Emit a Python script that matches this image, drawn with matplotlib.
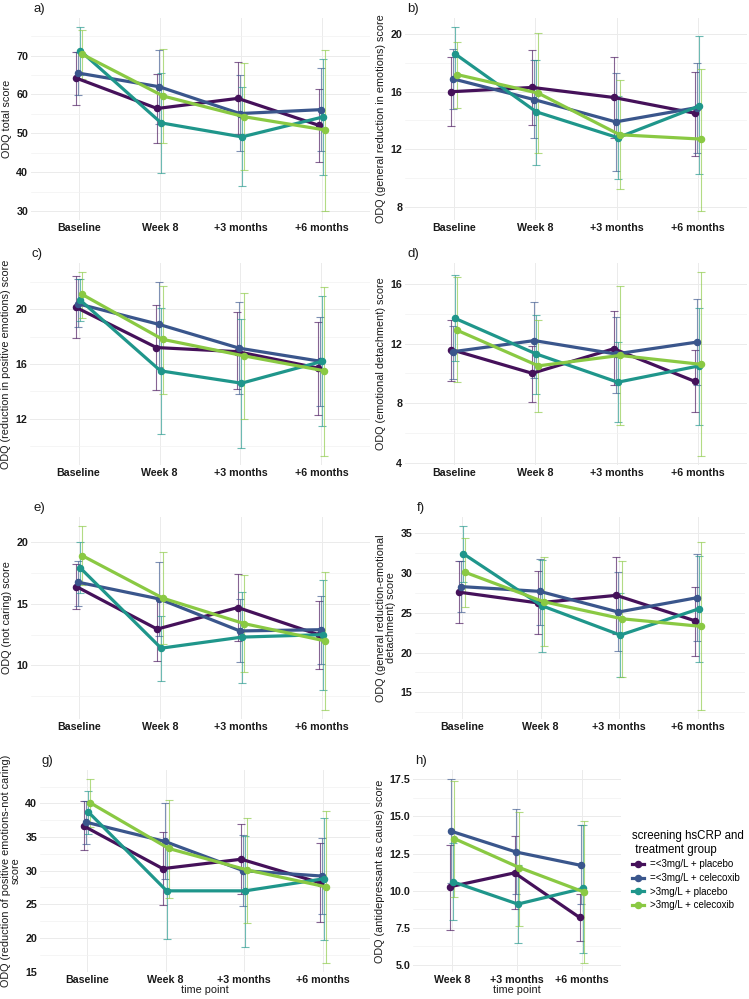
import matplotlib
matplotlib.use("Agg")
import matplotlib.pyplot as plt
from matplotlib.lines import Line2D
from matplotlib.ticker import MultipleLocator, FormatStrFormatter
import numpy as np

plt.rcParams['font.family'] = ['Liberation Sans', 'DejaVu Sans']

groups = ["=<3mg/L + placebo", "=<3mg/L + celecoxib", ">3mg/L + placebo", ">3mg/L + celecoxib"]
colors = ['#45115A', '#3A568C', '#1F968B', '#8AC943']
times4 = ["Baseline", "Week 8", "+3 months", "+6 months"]
times3 = ["Week 8", "+3 months", "+6 months"]

# ---- panel a: ODQ total score
a_mean = [[64.2, 56.4, 59.0, 52.1], [65.5, 62.0, 55.1, 56.1], [71.2, 52.7, 49.1, 54.2], [70.3, 59.6, 54.3, 50.9]]
a_lo = [[57.3, 47.6, 49.8, 42.7], [59.9, 52.5, 45.4, 45.4], [65.0, 39.9, 36.4, 39.2], [64.0, 47.6, 40.7, 30.1]]
a_hi = [[71.0, 65.3, 68.3, 61.5], [71.0, 71.5, 65.0, 66.8], [77.3, 65.4, 62.0, 69.1], [76.7, 71.6, 68.0, 71.5]]
# ---- panel b
b_mean = [[16.0, 16.3, 15.6, 14.5], [16.9, 15.45, 13.9, 14.9], [18.65, 14.6, 12.8, 15.0], [17.2, 15.9, 13.0, 12.7]]
b_lo = [[13.6, 13.7, 12.8, 11.55], [14.8, 12.8, 10.5, 11.7], [16.8, 10.9, 9.9, 10.25], [14.9, 11.7, 9.25, 7.7]]
b_hi = [[18.4, 18.9, 18.4, 17.4], [19.0, 18.2, 17.3, 18.0], [20.5, 18.2, 15.7, 19.9], [19.5, 20.1, 16.8, 17.6]]
# ---- panel c
c_mean = [[20.15, 17.2, 16.9, 15.7], [20.4, 18.9, 17.15, 16.2], [20.7, 15.5, 14.6, 16.2], [21.1, 17.8, 16.6, 15.5]]
c_lo = [[17.9, 14.1, 14.2, 12.3], [18.7, 15.8, 13.8, 12.95], [19.15, 10.9, 9.9, 11.45], [19.35, 13.8, 12.0, 9.3]]
c_hi = [[22.4, 20.3, 19.8, 19.1], [22.2, 21.95, 20.5, 19.45], [22.2, 20.1, 19.3, 20.95], [22.7, 21.7, 21.2, 21.6]]
# ---- panel d
d_mean = [[11.6, 10.0, 11.65, 9.45], [11.45, 12.2, 11.3, 12.1], [13.7, 11.3, 9.4, 10.5], [12.9, 10.5, 11.2, 10.6]]
d_lo = [[9.5, 8.05, 9.2, 7.4], [9.6, 9.65, 8.7, 9.2], [10.8, 8.6, 6.7, 6.5], [9.4, 7.4, 6.5, 4.45]]
d_hi = [[13.6, 11.85, 14.2, 11.6], [13.15, 14.8, 13.8, 15.0], [16.6, 13.9, 12.1, 14.4], [16.45, 13.6, 15.9, 16.8]]
# ---- panel e
e_mean = [[16.4, 12.95, 14.7, 12.5], [16.75, 15.4, 12.8, 12.9], [17.9, 11.4, 12.3, 12.5], [18.9, 15.45, 13.4, 12.0]]
e_lo = [[14.6, 10.4, 12.0, 9.7], [14.85, 12.4, 10.25, 10.1], [15.9, 8.7, 8.6, 7.97], [16.5, 11.7, 9.45, 6.4]]
e_hi = [[18.2, 15.5, 17.4, 15.2], [18.5, 18.4, 15.4, 15.6], [20.0, 14.05, 15.95, 16.9], [21.3, 19.2, 17.3, 17.6]]
# ---- panel f
f_mean = [[27.6, 26.25, 27.2, 24.0], [28.3, 27.7, 25.1, 26.9], [32.45, 25.9, 22.2, 25.5], [30.1, 26.4, 24.25, 23.3]]
f_lo = [[23.7, 22.4, 22.4, 19.6], [25.1, 23.5, 20.2, 21.4], [28.85, 20.05, 16.9, 18.8], [25.7, 20.8, 16.9, 12.8]]
f_hi = [[31.5, 30.2, 32.0, 28.2], [31.5, 31.8, 30.1, 32.4], [35.9, 31.7, 27.5, 32.1], [34.4, 32.0, 31.5, 33.9]]
# ---- panel g
g_mean = [[36.6, 30.3, 31.7, 28.2], [37.2, 34.35, 30.0, 29.2], [38.75, 27.0, 27.0, 28.8], [40.1, 33.3, 30.1, 27.6]]
g_lo = [[33.0, 24.85, 26.5, 22.4], [33.96, 28.8, 24.7, 23.5], [35.5, 19.8, 18.7, 19.7], [36.5, 25.9, 22.2, 16.3]]
g_hi = [[40.4, 35.7, 37.0, 34.1], [40.4, 40.0, 35.3, 34.9], [41.9, 34.2, 35.2, 37.8], [43.6, 40.5, 37.9, 38.8]]
# ---- panel h (no baseline)
h_mean = [[10.26, 11.2, 8.2], [14.0, 12.6, 11.7], [10.6, 9.1, 10.15], [13.5, 11.55, 9.9]]
h_lo = [[7.35, 8.8, 6.6], [10.5, 9.75, 9.1], [8.0, 6.5, 5.8], [9.55, 7.6, 5.15]]
h_hi = [[13.1, 13.7, 9.76], [17.5, 15.5, 14.4], [13.2, 11.75, 14.45], [17.4, 15.3, 14.7]]

W, H = 749, 999
fig = plt.figure(figsize=(W / 100, H / 100), dpi=100)


def rect(l, r, t, b):
    return [l / W, 1 - b / H, (r - l) / W, (b - t) / H]


TICK_FS = 7.7
LAB_FS = 7.8
offsets = np.array([-0.0375, -0.0125, 0.0125, 0.0375])


def panel(box, tag, times, mean, lo, hi, ylabel, major, fmt=None, xlabel=None):
    ax = fig.add_axes(rect(*box))
    n = len(times)
    x = np.arange(n)
    for gi in range(4):
        xs = x + offsets[gi]
        m = np.array(mean[gi]); l = np.array(lo[gi]); h = np.array(hi[gi])
        ax.errorbar(xs, m, yerr=[m - l, h - m], fmt='none', ecolor=colors[gi],
                    elinewidth=0.8, capsize=3, capthick=0.8, alpha=0.65, zorder=2)
    for gi in range(4):
        xs = x + offsets[gi]
        ax.plot(xs, mean[gi], color=colors[gi], lw=2.3, marker='o', ms=4.4,
                solid_capstyle='round', zorder=3 + gi)
    allv = np.concatenate([np.ravel(lo), np.ravel(hi)])
    lo_v, hi_v = allv.min(), allv.max()
    pad = 0.05 * (hi_v - lo_v)
    ax.set_ylim(lo_v - pad, hi_v + pad)
    ax.set_xlim(-0.6, n - 1 + 0.6)
    ax.set_xticks(x)
    ax.set_xticklabels(times, fontsize=TICK_FS, fontweight='bold', color='#1a1a1a')
    ax.yaxis.set_major_locator(MultipleLocator(major))
    ax.yaxis.set_minor_locator(MultipleLocator(major / 2))
    if fmt:
        ax.yaxis.set_major_formatter(FormatStrFormatter(fmt))
    for lab in ax.get_yticklabels():
        lab.set_fontsize(TICK_FS); lab.set_fontweight('bold'); lab.set_color('#1a1a1a')
    ax.grid(which='major', color='#EBEBEB', lw=0.7)
    ax.grid(which='minor', axis='y', color='#F2F2F2', lw=0.5)
    ax.set_axisbelow(True)
    for s in ax.spines.values():
        s.set_visible(False)
    ax.tick_params(length=0, pad=2)
    ax.tick_params(which='minor', length=0)
    ax.set_ylabel(ylabel, fontsize=LAB_FS, color='#1a1a1a', labelpad=3, linespacing=1.0)
    if xlabel:
        ax.set_xlabel(xlabel, fontsize=LAB_FS, color='#1a1a1a', labelpad=0, linespacing=1.0)
    l, r, t, b = box
    fig.text((l + 2) / W, 1 - (t - 9) / H, tag, fontsize=9.5, color='#1a1a1a',
             ha='left', va='center')
    return ax


panel((31, 370, 18, 220), 'a)', times4, a_mean, a_lo, a_hi, 'ODQ total score', 10)
panel((405, 747, 18, 220), 'b)', times4, b_mean, b_lo, b_hi,
      'ODQ (general reduction in emotions) score', 4)
panel((30, 370, 263, 465), 'c)', times4, c_mean, c_lo, c_hi,
      'ODQ (reduction in positive emotions) score', 4)
panel((405, 747, 263, 465), 'd)', times4, d_mean, d_lo, d_hi,
      'ODQ (emotional detachment) score', 4)
panel((31, 370, 517, 719), 'e)', times4, e_mean, e_lo, e_hi,
      'ODQ (not caring) score', 5)
panel((415, 745, 517, 719), 'f)', times4, f_mean, f_lo, f_hi,
      'ODQ (general reduction-emotional\ndetachment) score', 5)
panel((40, 370, 770, 972), 'g)', times4, g_mean, g_lo, g_hi,
      'ODQ (reduction of positive emotions-not caring)\nscore', 5, xlabel='time point')
panel((413, 621, 770, 972), 'h)', times3, h_mean, h_lo, h_hi,
      'ODQ (antidepressant as cause) score', 2.5, fmt='%.1f', xlabel='time point')

handles = [Line2D([0], [0], color=c, lw=2.3, marker='o', ms=4.4) for c in colors]
leg = fig.legend(handles, groups, loc='upper left', bbox_to_anchor=(628 / W, 1 - 826 / H),
                 frameon=False, fontsize=7, title='screening hsCRP and\n treatment group',
                 title_fontsize=8.3, handlelength=1.2, handletextpad=0.7,
                 labelspacing=0.38, borderaxespad=0)
leg._legend_box.align = 'left'

fig.savefig('out.png', dpi=100)
